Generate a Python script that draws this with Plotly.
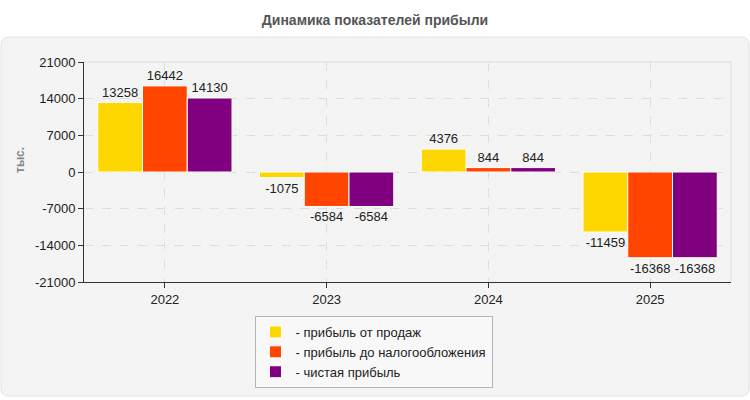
import plotly.graph_objects as go

years = ["2022", "2023", "2024", "2025"]
sales_profit = [13258, -1075, 4376, -11459]
pretax_profit = [16442, -6584, 844, -16368]
net_profit = [14130, -6584, 844, -16368]
series_names = ["- прибыль от продаж", "- прибыль до налогообложения", "- чистая прибыль"]
series_colors = ["#FFD700", "#FF4500", "#800080"]
y_ticks = [-21000, -14000, -7000, 0, 7000, 14000, 21000]

W, H = 750, 400
L, R, T, B = 84, 19, 62, 118
PW, PH = W - L - R, H - T - B

def px(x):
    return (x - L) / PW

def py(y):
    return (H - B - y) / PH

FONT = "Liberation Sans, Arial, sans-serif"

fig = go.Figure()

# background hatch (decorative) on hidden base axes
fig.add_trace(go.Bar(
    x=[0.5], y=[1], width=[1], xaxis="x", yaxis="y",
    marker=dict(color="#f0f0ec", line=dict(width=0),
                pattern=dict(shape="/", fgcolor="#f0f0ec", bgcolor="rgba(0,0,0,0)",
                             fillmode="replace", size=7, solidity=0.12)),
    showlegend=False, hoverinfo="skip",
))

for name, vals, col in zip(series_names, [sales_profit, pretax_profit, net_profit], series_colors):
    fig.add_trace(go.Bar(
        x=years, y=vals, name=name, xaxis="x2", yaxis="y2",
        marker=dict(color=col, line=dict(color="white", width=1)),
        text=[str(v) for v in vals], textposition="outside",
        textfont=dict(family=FONT, size=13, color="#222"),
        constraintext="none", cliponaxis=False,
    ))

# outer rounded panel
r = 8
x0, x1, y0, y1 = 1, 749, 37, 396
def P(x, y):
    return f"{px(x)},{py(y)}"
path = (f"M {P(x0 + r, y0)} L {P(x1 - r, y0)} Q {P(x1, y0)} {P(x1, y0 + r)} "
        f"L {P(x1, y1 - r)} Q {P(x1, y1)} {P(x1 - r, y1)} "
        f"L {P(x0 + r, y1)} Q {P(x0, y1)} {P(x0, y1 - r)} "
        f"L {P(x0, y0 + r)} Q {P(x0, y0)} {P(x0 + r, y0)} Z")

fig.update_layout(
    width=W, height=H,
    margin=dict(l=L, r=R, t=T, b=B),
    paper_bgcolor="white",
    plot_bgcolor="#fcfcf8",
    barmode="group", bargap=0.17, bargroupgap=0,
    font=dict(family=FONT, size=13, color="#222"),
    title=dict(text="<b>Динамика показателей прибыли</b>", x=0.5, xref="container",
               y=1 - 20 / H, yref="container", yanchor="middle", xanchor="center",
               font=dict(family=FONT, size=14, color="#555")),
    xaxis=dict(range=[0, 1], visible=False, fixedrange=True),
    yaxis=dict(range=[0, 1], visible=False, fixedrange=True),
    xaxis2=dict(overlaying="x", anchor="y2", side="bottom", type="category",
                showgrid=True, gridcolor="#dcdcdc", griddash="dash", gridwidth=1,
                showline=True, linecolor="#333", linewidth=1,
                ticks="outside", ticklen=5, tickcolor="#333",
                tickfont=dict(family=FONT, size=13, color="#222")),
    yaxis2=dict(overlaying="y", anchor="x2", side="left",
                range=[-21000, 21000], tickvals=y_ticks, ticktext=[str(v) for v in y_ticks],
                showgrid=True, gridcolor="#dcdcdc", griddash="dash", gridwidth=1,
                zeroline=False,
                showline=True, linecolor="#333", linewidth=1,
                ticks="outside", ticklen=5, tickcolor="#333",
                tickfont=dict(family=FONT, size=13, color="#222")),
    legend=dict(x=px(373.5), xanchor="center", y=py(316), yanchor="top",
                bgcolor="#f8f8f8", bordercolor="#b5b5b5", borderwidth=1,
                font=dict(family=FONT, size=13, color="#222"), traceorder="normal"),
    shapes=[
        dict(type="path", xref="paper", yref="paper", path=path,
             fillcolor="#f4f4f4", line=dict(color="#e2e2e2", width=1), layer="below"),
        dict(type="path", xref="paper", yref="paper", path="M 0,1 L 1,1 L 1,0",
             line=dict(color="#dddddd", width=1), layer="above"),
    ],
    annotations=[
        dict(text="<b>тыс.</b>", xref="paper", yref="paper", x=px(20), y=py(160),
             showarrow=False, textangle=-90, xanchor="center", yanchor="middle",
             font=dict(family=FONT, size=12, color="#888")),
    ],
)

fig.write_html("out.html")
